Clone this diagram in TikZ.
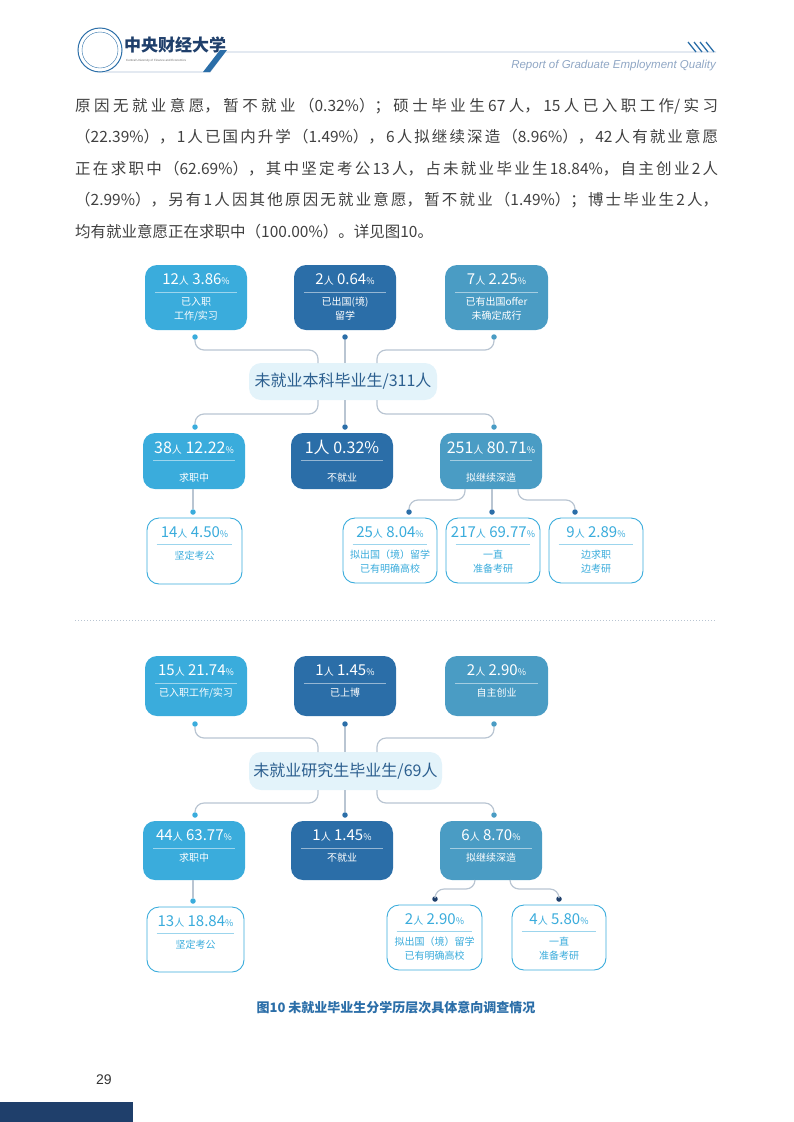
\documentclass[tikz,border=0pt]{standalone}
\usepackage{fontspec}
\setmainfont{Liberation Sans}
\newfontfamily\cjk{Noto Sans CJK SC}
\XeTeXlinebreaklocale "zh"
\XeTeXlinebreakskip=0pt plus 4pt
\usetikzlibrary{fit,calc}
\definecolor{cA}{HTML}{3AACDC}
\definecolor{cB}{HTML}{2B6EA8}
\definecolor{cC}{HTML}{4A9CC4}
\definecolor{cL}{HTML}{E3F3FA}
\definecolor{cT}{HTML}{2C5F8F}
\definecolor{cG}{HTML}{B9C5D2}
\definecolor{cN}{HTML}{1F3F6B}
\definecolor{cH}{HTML}{8FA6C4}
\tikzset{
 bx/.style={rounded corners=12pt,inner sep=0pt},
 fA/.style={bx,fill=cA}, fB/.style={bx,fill=cB}, fC/.style={bx,fill=cC},
 fW/.style={bx,draw=cA,line width=0.9pt,fill=white},
 con/.style={draw=cG,line width=1.2pt,rounded corners=9pt},
 dotn/.style={circle,inner sep=0pt,minimum size=5.5pt},
 txt/.style={font=\cjk\fontsize{15.5}{31.5}\selectfont,text=black!75,anchor=north west,inner sep=0pt,text width=643pt,align=justify}
}
\newcommand\mybox[9]{%
 \node[#6,fit={(#2,#3)(#4,#5)}] (#1) {};
 \node[text=#7,font=\cjk\fontsize{12}{12}\selectfont,inner sep=0pt] (#1n) at ($(#1.north)+(0,15)$) {#8};
 \draw[#7,opacity=0.5,line width=0.6pt] ($(#1.north west)+(10,27)$) -- ($(#1.north east)+(-10,27)$);
 \node[text=#7,font=\cjk\fontsize{10}{14}\selectfont,align=center,inner sep=0pt,anchor=north] (#1l) at ($(#1.north)+(0,32)$) {#9};
}
\newcommand\nm[3]{\fontsize{15}{15}\selectfont #1{\fontsize{10}{10}\selectfont 人} #2{\fontsize{9}{9}\selectfont\%}}
\newcommand\dt[3]{\node[dotn,fill=#3] (#1) at #2 {};}
\begin{document}
\begin{tikzpicture}[x=1pt,y=-1pt]
\useasboundingbox (0,0) rectangle (793,1122);
\node[circle,draw=cB,line width=1pt,minimum size=44pt,inner sep=0pt] (logo) at (100,50) {};
\node[circle,draw=cB,line width=0.4pt,minimum size=36pt,inner sep=0pt] (logoi) at (100,50) {};
\node[font=\cjk\bfseries\fontsize{17}{17}\selectfont,text=cN,anchor=west,inner sep=0pt] (uni) at (124,45) {中央财经大学};
\node[font=\fontsize{3}{3}\selectfont,text=black!60,anchor=west,inner sep=0pt] (unie) at (126,61) {Central University of Finance and Economics};
\draw[cH!70,line width=0.8pt] (105,72) -- (210,72) -- (225,52) -- (716,52);
\fill[cB] (203,72) -- (210,72) -- (227,50) -- (220,50) -- cycle;
\foreach \i in {0,1,2,3}{\draw[cB,line width=1.3pt] (688+\i*6,42) -- (696+\i*6,52);}
\node[font=\itshape\fontsize{11.5}{11.5}\selectfont,text=cH,anchor=east,inner sep=0pt] (rep) at (716,66) {Report of Graduate Employment Quality};
\node[txt] (body) at (75,98) {原因无就业意愿，暂不就业（0.32\%）；硕士毕业生67人，15人已入职工作/实习\linebreak（22.39\%），1人已国内升学（1.49\%），6人拟继续深造（8.96\%），42人有就业意愿\linebreak 正在求职中（62.69\%），其中坚定考公13人，占未就业毕业生18.84\%，自主创业2人\linebreak（2.99\%），另有1人因其他原因无就业意愿，暂不就业（1.49\%）；博士毕业生2人，\linebreak 均有就业意愿正在求职中（100.00\%）。详见图10。};
\mybox{a1}{145}{265}{247}{330}{fA}{white}{\nm{12}{3.86}{}}{已入职\\工作/实习}
\mybox{a2}{294}{265}{396}{330}{fB}{white}{\nm{2}{0.64}{}}{已出国(境)\\留学}
\mybox{a3}{445}{265}{548}{330}{fC}{white}{\nm{7}{2.25}{}}{已有出国offer\\未确定成行}
\node[bx,fill=cL,fit={(249,363)(437,400)}] (c1) {};
\node[text=cT,font=\cjk\fontsize{16}{16}\selectfont] (c1t) at (c1.center) {未就业本科毕业生/311人};
\mybox{b1}{143}{433}{245}{489}{fA}{white}{\fontsize{16}{16}\selectfont 38{\fontsize{10}{10}\selectfont 人} 12.22{\fontsize{9}{9}\selectfont\%}}{}
\mybox{b2}{291}{433}{393}{489}{fB}{white}{\fontsize{16}{16}\selectfont 1人 0.32\%}{}
\mybox{b3}{440}{433}{542}{489}{fC}{white}{\fontsize{16}{16}\selectfont 251{\fontsize{10}{10}\selectfont 人} 80.71{\fontsize{9}{9}\selectfont\%}}{}
\node[text=white,font=\cjk\fontsize{10}{10}\selectfont] (b1x) at ($(b1.north)+(0,45)$) {求职中};
\node[text=white,font=\cjk\fontsize{10}{10}\selectfont] (b2x) at ($(b2.north)+(0,45)$) {不就业};
\node[text=white,font=\cjk\fontsize{10}{10}\selectfont] (b3x) at ($(b3.north)+(0,45)$) {拟继续深造};
\mybox{d1}{147}{518}{242}{584}{fW}{cA}{\nm{14}{4.50}{}}{\\[-4pt]坚定考公}
\mybox{d2}{343}{518}{437}{583}{fW}{cA}{\nm{25}{8.04}{}}{拟出国（境）留学\\已有明确高校}
\mybox{d3}{446}{518}{540}{583}{fW}{cA}{\nm{217}{69.77}{}}{一直\\准备考研}
\mybox{d4}{549}{518}{643}{583}{fW}{cA}{\nm{9}{2.89}{}}{边求职\\边考研}
\dt{p1}{(195,337)}{cA}\dt{p2}{(345,337)}{cB}\dt{p3}{(494,337)}{cC}
\draw[con] (p1) -- (195,350) -- (318,350) -- (318,363);
\draw[con] (p2) -- (345,363);
\draw[con] (p3) -- (494,350) -- (377,350) -- (377,363);
\dt{q1}{(195,427)}{cA}\dt{q2}{(345,427)}{cB}\dt{q3}{(494,427)}{cC}
\draw[con] (318,400) -- (318,414) -- (195,414) -- (q1);
\draw[con] (345,400) -- (q2);
\draw[con] (377,400) -- (377,414) -- (494,414) -- (q3);
\dt{r0}{(193,512)}{cA}
\draw[con] (193,489) -- (r0);
\dt{r1}{(409,512)}{cB}\dt{r2}{(492,512)}{cB}\dt{r3}{(575,512)}{cB}
\draw[con] (465,489) -- (465,500) -- (409,500) -- (r1);
\draw[con] (492,489) -- (r2);
\draw[con] (518,489) -- (518,500) -- (575,500) -- (r3);
\draw[cG,line width=1pt,dotted] (75,620) -- (716,620);
\mybox{e1}{145}{656}{247}{716}{fA}{white}{\nm{15}{21.74}{}}{已入职工作/实习}
\mybox{e2}{294}{656}{396}{716}{fB}{white}{\nm{1}{1.45}{}}{已上博}
\mybox{e3}{445}{656}{548}{716}{fC}{white}{\nm{2}{2.90}{}}{自主创业}
\node[bx,fill=cL,fit={(249,752)(442,790)}] (c2) {};
\node[text=cT,font=\cjk\fontsize{16}{16}\selectfont] (c2t) at (c2.center) {未就业研究生毕业生/69人};
\mybox{f1}{143}{821}{245}{880}{fA}{white}{\nm{44}{63.77}{}}{求职中}
\mybox{f2}{291}{821}{393}{880}{fB}{white}{\nm{1}{1.45}{}}{不就业}
\mybox{f3}{440}{821}{542}{880}{fC}{white}{\nm{6}{8.70}{}}{拟继续深造}
\mybox{g1}{147}{907}{244}{972}{fW}{cA}{\nm{13}{18.84}{}}{\\[-4pt]坚定考公}
\mybox{g2}{387}{905}{482}{970}{fW}{cA}{\nm{2}{2.90}{}}{拟出国（境）留学\\已有明确高校}
\mybox{g3}{512}{905}{606}{970}{fW}{cA}{\nm{4}{5.80}{}}{一直\\准备考研}
\dt{s1}{(195,724)}{cA}\dt{s2}{(345,724)}{cB}\dt{s3}{(494,724)}{cC}
\draw[con] (s1) -- (195,738) -- (318,738) -- (318,752);
\draw[con] (s2) -- (345,752);
\draw[con] (s3) -- (494,738) -- (377,738) -- (377,752);
\dt{u1}{(195,815)}{cA}\dt{u2}{(345,815)}{cB}\dt{u3}{(494,815)}{cC}
\draw[con] (318,790) -- (318,803) -- (195,803) -- (u1);
\draw[con] (345,790) -- (u2);
\draw[con] (377,790) -- (377,803) -- (494,803) -- (u3);
\dt{v0}{(193,901)}{cA}
\draw[con] (193,880) -- (v0);
\dt{v1}{(435,899)}{cN}\dt{v2}{(559,899)}{cN}
\draw[con] (475,880) -- (475,889) -- (435,889) -- (v1);
\draw[con] (510,880) -- (510,889) -- (559,889) -- (v2);
\node[text=cB,font=\cjk\bfseries\fontsize{13}{13}\selectfont] (cap) at (396,1008) {图10 未就业毕业生分学历层次具体意向调查情况};
\node[font=\fontsize{14}{14}\selectfont,text=black!80] (pg) at (104,1080) {29};
\fill[cN] (0,1102) rectangle (133,1122);
\end{tikzpicture}
\end{document}
